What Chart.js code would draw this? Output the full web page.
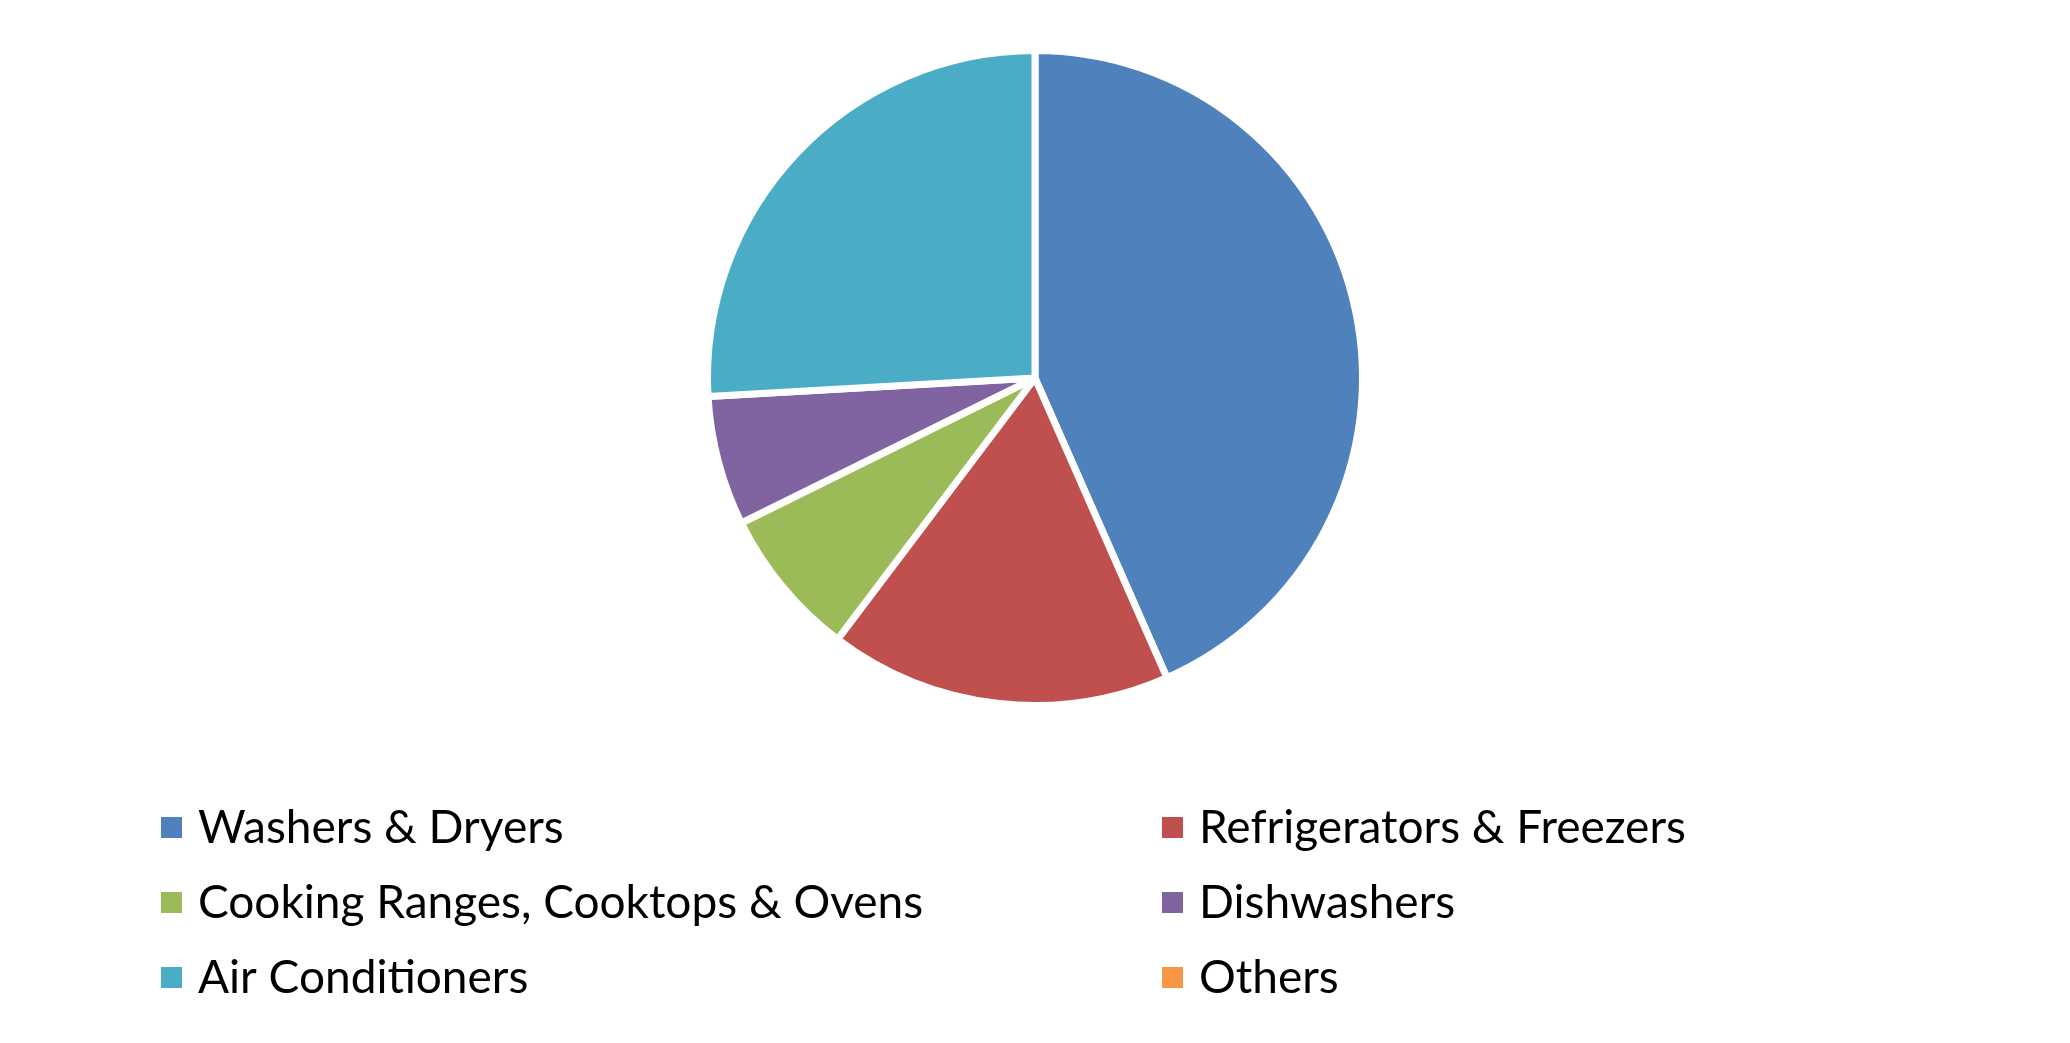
<!DOCTYPE html>
<html>
<head>
<meta charset="utf-8">
<script src="https://cdn.jsdelivr.net/npm/chart.js@4.4.0/dist/chart.umd.min.js"></script>
<style>
  html, body { margin: 0; padding: 0; background: #ffffff; }
  #chartBox { width: 2070px; height: 1043px; }
</style>
</head>
<body>
<div id="chartBox">
  <canvas id="myChart" width="2070" height="1043"></canvas>
</div>
<script>
var categories = ["Washers & Dryers", "Refrigerators & Freezers", "Cooking Ranges, Cooktops & Ovens", "Dishwashers", "Air Conditioners", "Others"];
var shares = [43.4, 16.9, 7.4, 6.4, 25.9, 0];
var sliceColors = ['#4f81bd', '#c0504d', '#9bbb59', '#8064a2', '#4bacc6', '#f79646'];

// two column legend under the pie, like the office chart
var twoColLegend = {
    id: 'twoColLegend',
    afterDraw: function (chart) {
        var ctx = chart.ctx;
        var colX = [161, 1162];
        var rowY = [827, 902, 977];
        ctx.save();
        ctx.font = '46px Lato';
        ctx.textBaseline = 'middle';
        chart.data.labels.forEach(function (label, i) {
            var x = colX[i % 2];
            var y = rowY[Math.floor(i / 2)];
            ctx.fillStyle = chart.data.datasets[0].backgroundColor[i];
            ctx.fillRect(x, y - 10, 21, 21);
            ctx.fillStyle = '#000000';
            ctx.fillText(label, x + 37, y + 1);
        });
        ctx.restore();
    }
};

new Chart("myChart", {
    type: "pie",
    data: {
        labels: categories,
        datasets: [{
            data: shares,
            backgroundColor: sliceColors,
            borderColor: '#ffffff',
            borderWidth: 7
        }]
    },
    options: {
        responsive: false,
        animation: false,
        layout: {
            padding: { top: 47, bottom: 334, left: 0, right: 0 }
        },
        plugins: {
            legend: { display: false },
            tooltip: { enabled: false }
        }
    },
    plugins: [twoColLegend]
});
</script>
</body>
</html>
